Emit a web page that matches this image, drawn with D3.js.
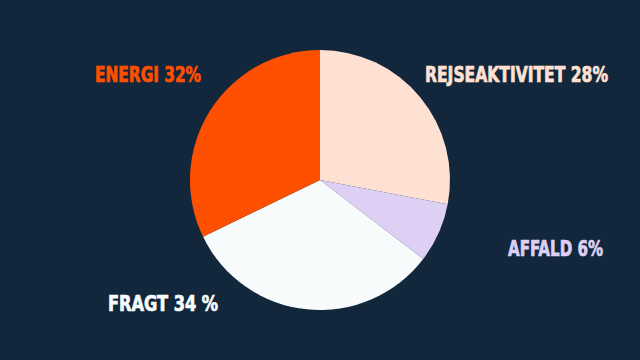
<!DOCTYPE html>
<html>
<head>
<meta charset="utf-8">
<script src="https://cdn.jsdelivr.net/npm/d3@7"></script>
<style>
  html, body { margin: 0; padding: 0; background: #12273b; }
  svg { display: block; }
</style>
</head>
<body>
<div id="chart"></div>
<script>
// Data (slice sizes as drawn, labels as printed)
const categories = ['Rejseaktivitet', 'Affald', 'Fragt', 'Energi'];
const values = [28, 7.4, 32.4, 32.2];
const labels = ['REJSEAKTIVITET 28%', 'AFFALD 6%', 'FRAGT 34 %', 'ENERGI 32%'];
const colors = ['#ffe1d3', '#ded0f4', '#f7fbfc', '#ff5000'];

const width = 640, height = 360;
const cx = 320, cy = 180, radius = 130;

const svg = d3.select('#chart')
    .append('svg')
    .attr('width', width)
    .attr('height', height);

svg.append('rect')
    .attr('width', width)
    .attr('height', height)
    .attr('fill', '#12273b');

const pie = d3.pie().sort(null).value(d => d.value);
const arc = d3.arc().innerRadius(0).outerRadius(radius);

const data = categories.map((c, i) => ({ name: c, value: values[i], label: labels[i], color: colors[i] }));

// Slices
svg.append('g')
    .attr('transform', `translate(${cx},${cy})`)
    .selectAll('path')
    .data(pie(data))
    .enter()
    .append('path')
    .attr('d', arc)
    .attr('fill', d => d.data.color);

const labelPos = {
    'Rejseaktivitet': [425, 82, 183],
    'Affald': [508, 256, 95],
    'Fragt': [108, 311, 110],
    'Energi': [95, 82, 106]
};

svg.append('g')
    .selectAll('text')
    .data(data)
    .enter()
    .append('text')
    .attr('x', d => labelPos[d.name][0])
    .attr('y', d => labelPos[d.name][1])
    .attr('textLength', d => labelPos[d.name][2])
    .attr('lengthAdjust', 'spacingAndGlyphs')
    .attr('font-family', '"Liberation Sans Narrow", "DejaVu Sans Condensed", sans-serif')
    .attr('font-weight', 'bold')
    .attr('font-size', '21px')
    .attr('fill', d => d.color)
    .attr('stroke', d => d.color)
    .attr('stroke-width', 0.7)
    .text(d => d.label);
</script>
</body>
</html>
